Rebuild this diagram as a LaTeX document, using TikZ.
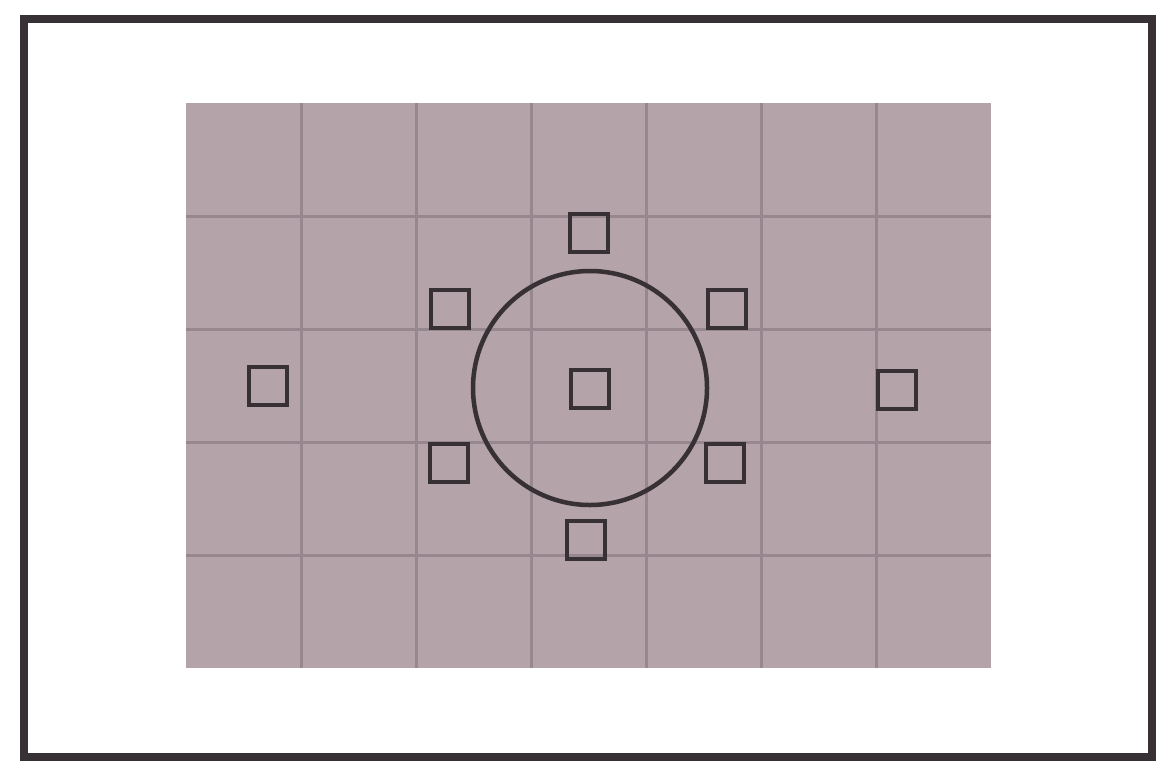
\documentclass[tikz,border=0pt]{standalone}
\definecolor{gridfill}{RGB}{180,163,168}
\definecolor{gridline}{RGB}{150,136,142}
\definecolor{inkdark}{RGB}{55,48,52}
\begin{document}
\begin{tikzpicture}[x=1pt,y=-1pt,
  afpoint/.style={draw=inkdark,line width=4.5pt,minimum size=38pt,inner sep=0pt,fill=none},
  meter/.style={draw=inkdark,line width=4.5pt,circle,minimum size=234pt,inner sep=0pt}]
\useasboundingbox (0,0) rectangle (1156,761);
\fill[white] (0,0) rectangle (1156,761);
% outer frame
\draw[inkdark,line width=8pt] (24,19) rectangle (1152,757);
% grid
\fill[gridfill] (186,103) rectangle (991,668);
\foreach \x in {301,416,531,646,761,876}
  \draw[gridline,line width=3pt] (\x,103) -- (\x,668);
\foreach \y in {216,329,442,555}
  \draw[gridline,line width=3pt] (186,\y) -- (991,\y);
% metering circle
\node[meter] (circ) at (590,388) {};
% AF points
\node[afpoint] (c)  at (590,389) {};
\node[afpoint] (t)  at (589,233) {};
\node[afpoint] (b)  at (586,540) {};
\node[afpoint] (ul) at (450,309) {};
\node[afpoint] (ur) at (727,309) {};
\node[afpoint] (ll) at (449,463) {};
\node[afpoint] (lr) at (725,463) {};
\node[afpoint] (l)  at (268,386) {};
\node[afpoint] (r)  at (897,390) {};
\end{tikzpicture}
\end{document}
